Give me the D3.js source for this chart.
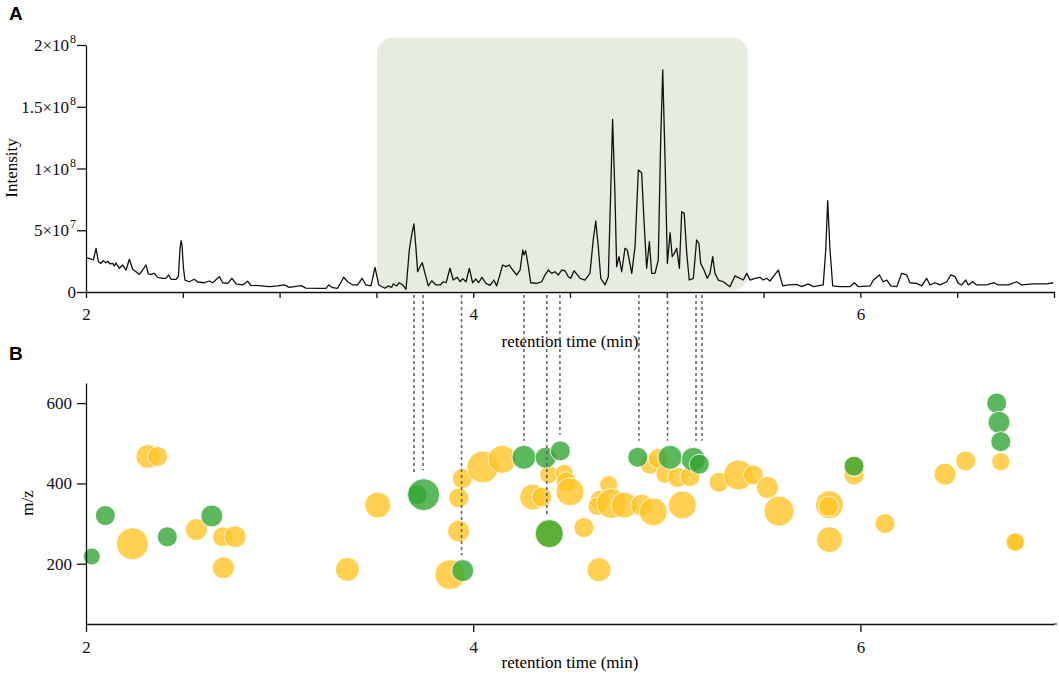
<!DOCTYPE html>
<html>
<head>
<meta charset="utf-8">
<script src="https://cdnjs.cloudflare.com/ajax/libs/d3/7.8.5/d3.min.js"></script>
<style>
  body { margin: 0; background: #fff; }
  text { font-family: "Liberation Serif", "Times New Roman", serif; }
</style>
</head>
<body>
<script>
/*
*    chromatogram + feature map
*/

// panel A: retention time (min) and intensity (x10^6 counts)
var rtA = [2.000,2.017,2.038,2.052,2.064,2.077,2.089,2.103,2.112,2.124,2.138,2.147,2.155,2.172,2.189,2.207,2.224,2.241,2.258,2.275,2.293,2.310,2.322,2.336,2.353,2.370,2.396,2.413,2.427,2.439,2.465,2.477,2.486,2.491,2.496,2.503,2.511,2.534,2.559,2.577,2.611,2.637,2.654,2.689,2.706,2.732,2.754,2.775,2.809,2.835,2.852,2.895,2.947,2.990,3.024,3.050,3.111,3.136,3.205,3.240,3.254,3.274,3.300,3.331,3.352,3.378,3.403,3.426,3.446,3.472,3.493,3.512,
  3.544,3.561,3.579,3.587,3.605,3.618,3.636,3.653,3.670,3.682,3.694,3.705,3.713,3.725,3.737,3.751,3.768,3.786,3.808,3.829,3.846,3.860,3.880,3.897,3.918,3.932,3.946,3.963,3.980,3.997,4.014,4.028,4.045,4.066,4.087,4.107,4.121,4.135,4.152,4.169,4.186,4.204,4.225,4.242,4.256,4.262,4.271,4.285,4.297,4.328,4.354,4.371,4.388,4.405,4.422,4.440,4.457,4.474,4.491,4.504,4.521,4.538,
  4.552,4.577,4.603,4.620,4.633,4.646,4.659,4.681,4.698,4.710,4.720,4.732,4.741,4.753,4.767,4.784,4.796,4.806,4.819,4.836,4.853,4.870,4.882,4.896,4.910,4.922,4.939,4.956,4.968,4.979,4.991,5.003,5.017,5.028,5.039,5.051,5.065,5.077,5.090,5.103,5.116,5.137,5.154,5.166,5.175,5.192,5.209,5.223,5.237,5.249,5.266,5.292,5.326,5.352,5.378,5.395,5.413,5.430,5.456,
  5.481,5.498,5.516,5.533,5.550,5.576,5.599,5.628,5.671,5.697,5.731,5.757,5.808,5.821,5.831,5.843,5.857,5.895,5.946,5.969,5.989,6.050,6.067,6.098,6.118,6.136,6.157,6.188,6.213,6.239,6.256,6.291,6.317,6.342,6.360,6.385,6.411,6.446,6.467,6.489,6.506,6.523,6.544,6.557,6.580,6.600,6.652,6.690,6.712,6.764,6.807,6.833,6.893,6.962,6.996];
var intensity = [27.8,27.3,25.9,35.4,24.5,23.2,25.3,23.7,24.9,22.7,23.2,21.0,23.5,19.2,21.9,17.8,26.5,18.4,16.4,14.3,17.8,21.9,14.6,14.3,15.1,11.9,11.1,11.1,13.8,10.3,10.3,12.4,36.0,41.5,38.0,20.0,9.7,8.3,10.3,8.1,7.5,8.9,7.5,12.4,7.5,7.0,11.1,6.5,5.7,8.7,5.4,5.1,4.3,4.9,5.7,3.8,5.1,3.2,3.0,3.0,5.7,3.5,3.0,11.9,8.3,5.7,5.7,11.1,5.7,4.9,20.0,5.7,
  3.0,4.9,3.8,6.5,4.9,7.5,5.7,2.2,34.0,46.2,55.1,34.0,16.4,20.5,23.7,15.1,4.9,9.1,5.7,5.7,8.3,7.5,19.2,9.7,11.9,8.3,10.8,8.3,19.2,7.5,10.5,7.5,11.9,7.0,5.4,9.7,4.9,12.4,21.9,20.5,21.9,17.8,13.8,17.8,34.0,30.0,33.4,20.5,7.5,7.0,8.3,13.8,17.8,15.1,16.4,13.8,17.8,17.2,12.4,11.1,17.2,13.8,
  11.1,9.7,15.1,42.1,57.5,36.7,11.1,5.7,12.4,79.9,139.8,79.9,20.5,28.6,16.4,35.4,34.0,25.9,15.1,36.7,98.8,96.6,58.3,19.2,40.7,15.1,15.1,25.9,120.4,179.8,106.9,23.2,48.0,28.6,31.3,35.4,19.2,65.0,63.7,31.3,9.7,11.1,42.1,39.4,23.2,17.8,11.1,15.1,28.6,15.1,9.7,8.3,4.3,13.0,11.1,9.7,15.1,9.7,11.1,
  11.9,9.7,11.1,8.9,12.4,17.8,4.9,5.7,6.2,4.3,6.5,4.3,5.7,34.0,73.9,34.0,4.9,4.3,4.3,7.5,4.3,4.9,9.7,13.8,8.3,9.7,4.9,4.3,15.1,13.8,7.5,7.0,4.9,11.1,5.7,7.5,5.7,8.3,13.8,12.4,7.0,5.7,9.7,5.7,8.3,5.7,5.7,7.5,5.7,5.7,8.3,5.7,6.5,6.5,7.5];

// shaded window in panel A (min)
var windowStart = 3.503;
var windowEnd = 5.419;

// tick labels
var intensityTicks = [0, 50, 100, 150, 200];
var intensityLabels = [["0", ""], ["5×10", "7"], ["1×10", "8"], ["1.5×10", "8"], ["2×10", "8"]];
var mzTicks = [200, 400, 600];
var rtLabelTicks = [2, 4, 6];

// panel B features: yellow first, green on top
var featTime = [2.24,2.32,2.37,2.57,2.706,2.77,2.71,3.35,3.507,3.944,3.925,3.925,3.88,4.05,4.15,4.39,4.47,4.48,4.50,4.307,4.354,4.39,4.572,4.65,4.70,4.655,4.64,4.715,4.78,4.87,4.93,5.08,4.913,4.956,4.99,5.056,5.12,5.27,5.37,5.447,5.52,5.58,5.84,5.835,5.84,5.967,5.967,6.127,6.437,6.544,6.725,6.80,6.80,
  2.03,2.10,2.42,2.65,3.71,3.744,3.946,4.262,4.374,4.45,4.393,4.85,5.017,5.137,5.168,5.967,6.704,6.716,6.725];
var featMz = [250,467,467,285,267,267,190,186,346,412,364,281,173,441,460,422,425,404,379,366,366,275,290,185,397,358,343,350,346,346,329,346,448,462,423,415,417,403,421,421,390,331,347,343,260,421,443,300,423,456,454,254,254,
  218,320,267,319,372,372,183,465,464,481,275,465,465,460,448,443,600,552,504];
var featSize = [10,5.6,3.9,4.7,3.9,4.7,4.7,5.6,6.6,3.9,3.9,4.7,8.8,10,7.7,3.2,3.2,3.9,7.7,6.6,3.9,7.7,3.9,5.6,3.2,3.9,3.2,8.8,6.6,4.7,7.7,7.7,3.9,3.9,3.2,3.9,3.9,3.9,8.8,3.9,4.7,8.8,7.7,3.9,6.6,3.9,3.9,3.9,4.7,3.9,3.2,3.5,3.2,
  2.8,3.9,3.9,4.7,3.9,10,4.7,5.6,4.3,3.9,7.7,3.9,5.6,5.6,3.9,3.9,3.9,4.7,3.9];
var featGroup = ["y","y","y","y","y","y","y","y","y","y","y","y","y","y","y","y","y","y","y","y","y","y","y","y","y","y","y","y","y","y","y","y","y","y","y","y","y","y","y","y","y","y","y","y","y","y","y","y","y","y","y","y","y",
  "g","g","g","g","g","g","g","g","g","g","g","g","g","g","g","g","g","g","g"];

// dashed links from the chromatogram down to features (time, m/z where the dash stops)
var linkTime = [3.694,3.741,3.940,4.262,4.380,4.448,4.856,5.004,5.151,5.182];
var linkMz = [421,433,221,506,321,521,506,506,506,506];

var width = 1059;
var height = 684;

var svg = d3.select("body")
  .append("svg")
    .attr("width", width)
    .attr("height", height);

var xA = d3.scaleLinear().domain([2, 7]).range([86, 1054]);
var yA = d3.scaleLinear().domain([0, 200]).range([292, 45]);
var xB = d3.scaleLinear().domain([2, 7]).range([86, 1054]);
var yB = d3.scaleLinear().domain([50, 650]).range([624, 383]);
var rScale = d3.scaleSqrt().domain([0, 10]).range([0, 16]);
var colors = d3.scaleOrdinal().domain(["y", "g"]).range(["#ffc425", "#33a633"]);

// ---- panel A ----
svg.append("rect")
  .attr("x", xA(windowStart))
  .attr("y", yA(206))
  .attr("width", xA(windowEnd) - xA(windowStart))
  .attr("height", yA(1) - yA(206))
  .attr("rx", 16)
  .attr("fill", "#e6eddf");

var trace = rtA.map(function(t, i) { return [t, intensity[i]]; });
var line = d3.line()
  .x(function(d) { return xA(d[0]); })
  .y(function(d) { return yA(d[1]); });

svg.append("path")
  .datum(trace)
  .attr("fill", "none")
  .attr("stroke", "#111")
  .attr("stroke-width", 1.3)
  .attr("stroke-linejoin", "round")
  .attr("d", line);

var axAx = d3.axisBottom(xA)
  .tickValues(d3.range(2, 7.01, 0.5))
  .tickSize(6)
  .tickPadding(10)
  .tickSizeOuter(0)
  .tickFormat(function(d) { return rtLabelTicks.indexOf(d) >= 0 ? d : ""; });
svg.append("g")
  .attr("class", "axis")
  .attr("transform", "translate(0," + yA(0) + ")")
  .call(axAx);

var ayAx = d3.axisLeft(yA)
  .tickValues(intensityTicks)
  .tickSize(9)
  .tickSizeOuter(0)
  .tickFormat("");
svg.append("g")
  .attr("class", "axis")
  .attr("transform", "translate(" + xA(2) + ",0)")
  .call(ayAx);

// y labels with superscripts
var yLab = svg.append("g").selectAll("text")
  .data(intensityTicks)
  .enter()
  .append("text")
    .attr("x", xA(2) - 10)
    .attr("y", function(d) { return yA(d) + 6; })
    .attr("text-anchor", "end")
    .attr("font-size", "17px")
    .attr("fill", "#111");
yLab.append("tspan").text(function(d, i) { return intensityLabels[i][0]; });
yLab.append("tspan")
  .attr("font-size", "12px")
  .attr("dx", 1)
  .attr("dy", -8)
  .text(function(d, i) { return intensityLabels[i][1]; });

svg.append("text")
  .attr("x", -168)
  .attr("y", 17)
  .attr("transform", "rotate(-90)")
  .attr("text-anchor", "middle")
  .attr("font-size", "17px")
  .text("Intensity");

svg.append("text")
  .attr("x", 570)
  .attr("y", 347)
  .attr("text-anchor", "middle")
  .attr("font-size", "17px")
  .text("retention time (min)");

// ---- panel B ----
var feats = featTime.map(function(t, i) {
  return {t: t, mz: featMz[i], s: featSize[i], g: featGroup[i]};
});

svg.append("g").selectAll("circle")
  .data(feats)
  .enter()
  .append("circle")
    .attr("cx", function(d) { return xB(d.t); })
    .attr("cy", function(d) { return yB(d.mz); })
    .attr("r", function(d) { return rScale(d.s); })
    .attr("fill", function(d) { return colors(d.g); })
    .attr("fill-opacity", 0.8)
    .attr("stroke", "#fff")
    .attr("stroke-opacity", 0.8)
    .attr("stroke-width", 1);

// dashed connectors
svg.append("g").selectAll("line")
  .data(linkTime)
  .enter()
  .append("line")
    .attr("x1", function(d) { return xA(d); })
    .attr("x2", function(d) { return xB(d); })
    .attr("y1", yA(0) + 3)
    .attr("y2", function(d, i) { return yB(linkMz[i]); })
    .attr("stroke", "#666")
    .attr("stroke-width", 1.6)
    .attr("stroke-dasharray", "3,3");

var bxAx = d3.axisBottom(xB)
  .tickValues(rtLabelTicks)
  .tickSize(8)
  .tickPadding(9)
  .tickSizeOuter(0)
  .tickFormat(d3.format("d"));
svg.append("g")
  .attr("class", "axis")
  .attr("transform", "translate(0," + yB(50) + ")")
  .call(bxAx);
svg.append("line")
  .attr("x1", xB(7)).attr("x2", xB(7) + 3)
  .attr("y1", yB(50)).attr("y2", yB(50))
  .attr("stroke", "#111");

var byAx = d3.axisLeft(yB)
  .tickValues(mzTicks)
  .tickSize(9)
  .tickPadding(5)
  .tickSizeOuter(0);
svg.append("g")
  .attr("class", "axis")
  .attr("transform", "translate(" + xB(2) + ",0)")
  .call(byAx);

svg.append("text")
  .attr("x", -503)
  .attr("y", 33)
  .attr("transform", "rotate(-90)")
  .attr("text-anchor", "middle")
  .attr("font-size", "17px")
  .text("m/z");

svg.append("text")
  .attr("x", 570)
  .attr("y", 668)
  .attr("text-anchor", "middle")
  .attr("font-size", "17px")
  .text("retention time (min)");

// axis styling
svg.selectAll(".axis path, .axis line").attr("stroke", "#111").attr("stroke-width", 1.3);
svg.selectAll(".axis text")
  .attr("font-family", "Liberation Serif, serif")
  .attr("font-size", "17px")
  .attr("fill", "#111");

// panel letters
svg.append("text")
  .attr("x", 9).attr("y", 20)
  .style("font-family", "Liberation Sans, Arial, sans-serif")
  .attr("font-weight", "bold")
  .attr("font-size", "19px")
  .text("A");
svg.append("text")
  .attr("x", 9).attr("y", 360)
  .style("font-family", "Liberation Sans, Arial, sans-serif")
  .attr("font-weight", "bold")
  .attr("font-size", "19px")
  .text("B");
</script>
</body>
</html>
